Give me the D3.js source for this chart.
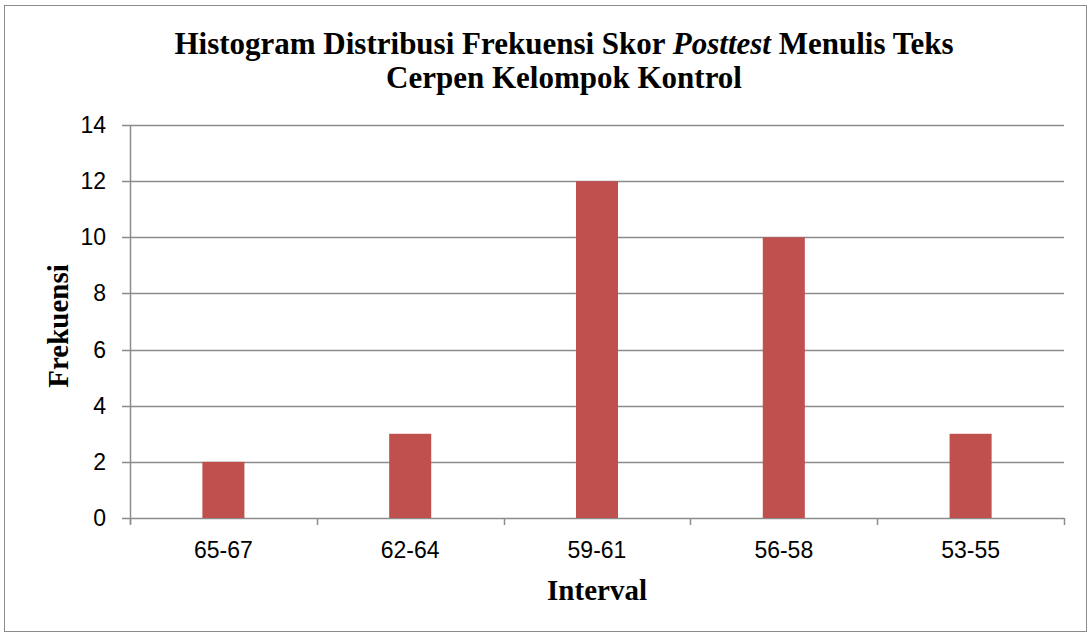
<!DOCTYPE html>
<html>
<head>
<meta charset="utf-8">
<script src="https://cdn.jsdelivr.net/npm/d3@7"></script>
<style>
  body { margin: 0; background: #fff; }
</style>
</head>
<body>
<div id="chart"></div>
<script>
const categories = ['65-67', '62-64', '59-61', '56-58', '53-55'];
const frequencies = [2, 3, 12, 10, 3];
const yTicks = [0, 2, 4, 6, 8, 10, 12, 14];

const width = 1090, height = 635;
const margin = { top: 125, right: 26, bottom: 117, left: 130 };
const tickFont = '"Liberation Sans Narrow", "Arial Narrow", sans-serif';
const serif = '"Liberation Serif", "Times New Roman", serif';

const svg = d3.select('#chart').append('svg')
  .attr('width', width)
  .attr('height', height);

// outer frame
svg.append('rect')
  .attr('x', 4.5).attr('y', 5.5)
  .attr('width', 1082).attr('height', 626)
  .attr('fill', '#fff')
  .attr('stroke', '#8c8c8c')
  .attr('stroke-width', 1);

const x = d3.scaleBand()
  .domain(categories)
  .range([margin.left, width - margin.right]);

const y = d3.scaleLinear()
  .domain([0, 14])
  .range([height - margin.bottom, margin.top]);

// gridlines
svg.append('g')
  .selectAll('line')
  .data(yTicks)
  .join('line')
  .attr('x1', margin.left - 8)
  .attr('x2', width - margin.right)
  .attr('y1', d => Math.round(y(d)) + 0.5)
  .attr('y2', d => Math.round(y(d)) + 0.5)
  .attr('stroke', '#8c8c8c')
  .attr('stroke-width', 1.5);

// bars
const barWidth = x.bandwidth() * 0.225;
svg.append('g')
  .selectAll('rect')
  .data(categories.map((c, i) => ({ name: c, value: frequencies[i] })))
  .join('rect')
  .attr('x', d => x(d.name) + (x.bandwidth() - barWidth) / 2)
  .attr('y', d => y(d.value))
  .attr('width', barWidth)
  .attr('height', d => y(0) - y(d.value))
  .attr('fill', '#c0504d');

// y axis line
svg.append('line')
  .attr('x1', margin.left + 0.5).attr('x2', margin.left + 0.5)
  .attr('y1', y(14)).attr('y2', y(0) + 6)
  .attr('stroke', '#8c8c8c')
  .attr('stroke-width', 1.5);

// x axis ticks (category boundaries)
const bounds = categories.map(c => x(c)).concat([width - margin.right]);
svg.append('g')
  .selectAll('line')
  .data(bounds)
  .join('line')
  .attr('x1', d => Math.round(d) + 0.5)
  .attr('x2', d => Math.round(d) + 0.5)
  .attr('y1', y(0))
  .attr('y2', y(0) + 7)
  .attr('stroke', '#8c8c8c')
  .attr('stroke-width', 1.5);

// y tick labels
svg.append('g')
  .selectAll('text')
  .data(yTicks)
  .join('text')
  .attr('x', margin.left - 24)
  .attr('y', d => y(d) + 8)
  .attr('text-anchor', 'end')
  .style('font-family', tickFont)
  .style('font-size', '23px')
  .attr('fill', '#000')
  .text(d => d);

// x tick labels
svg.append('g')
  .selectAll('text')
  .data(categories)
  .join('text')
  .attr('x', d => x(d) + x.bandwidth() / 2)
  .attr('y', y(0) + 40)
  .attr('text-anchor', 'middle')
  .style('font-family', tickFont)
  .style('font-size', '23px')
  .attr('fill', '#000')
  .text(d => d);

// title
const title = svg.append('text')
  .attr('text-anchor', 'middle')
  .style('font-family', serif)
  .style('font-size', '31px')
  .style('font-weight', 'bold');
const line1 = title.append('tspan').attr('x', 564).attr('y', 54);
line1.append('tspan').text('Histogram Distribusi Frekuensi Skor ');
line1.append('tspan').style('font-style', 'italic').text('Posttest');
line1.append('tspan').text(' Menulis Teks');
title.append('tspan').attr('x', 564).attr('y', 88).text('Cerpen Kelompok Kontrol');

// axis titles
svg.append('text')
  .attr('x', (margin.left + width - margin.right) / 2)
  .attr('y', 600)
  .attr('text-anchor', 'middle')
  .style('font-family', serif)
  .style('font-size', '29px')
  .style('font-weight', 'bold')
  .text('Interval');

svg.append('text')
  .attr('transform', 'translate(68,326) rotate(-90)')
  .attr('text-anchor', 'middle')
  .style('font-family', serif)
  .style('font-size', '29px')
  .style('font-weight', 'bold')
  .text('Frekuensi');
</script>
</body>
</html>
